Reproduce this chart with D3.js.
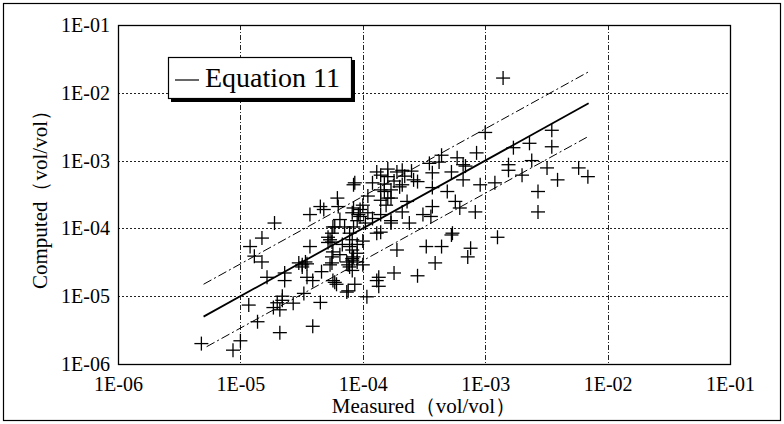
<!DOCTYPE html>
<head>
    <meta charset="utf-8">
    <style>
        body { margin: 0; background: #fff; }
        text { font-family: "Liberation Serif", "DejaVu Serif", serif; fill: #000; }
        .grid-h { stroke: #222; stroke-width: 1px; stroke-dasharray: 2,2; }
        .grid-v { stroke: #222; stroke-width: 1px; stroke-dasharray: 5,2,1,2; }
        .fit-line { fill: none; stroke: #000; stroke-width: 1.8px; }
        .band-line { fill: none; stroke: #000; stroke-width: 1px; stroke-dasharray: 9,3,2,3; }
        .mark { stroke: #000; stroke-width: 1.3px; }
    </style>
</head>

<body>
    <script src="https://d3js.org/d3.v7.min.js"></script>

    <script>
        // decade ticks on both axes
        var tickValues = [1e-6, 1e-5, 1e-4, 1e-3, 1e-2, 1e-1];
        var tickLabels = ["1E-06", "1E-05", "1E-04", "1E-03", "1E-02", "1E-01"];

        var measured = [
            4.8e-6, 8.7e-6, 1.0e-5, 1.17e-5, 1.38e-5, 2.1e-5, 3.9e-5, 1.86e-5, 2.1e-5, 2.2e-5,
            2.7e-5, 4.5e-5, 3.3e-5, 1.2e-5, 1.3e-5, 1.5e-5, 1.5e-5, 1.9e-5, 1.65e-5, 2.3e-5,
            2.3e-5, 3.2e-5, 3.4e-5, 3.5e-5, 3.9e-5, 3.7e-5, 3.7e-5, 4.5e-5, 4.6e-5, 5.4e-5,
            5.7e-5, 5.2e-5, 5.6e-5, 5.7e-5, 6.5e-5, 5.7e-5, 6.1e-5, 7.6e-5, 8.6e-5, 1.08e-4,
            7.6e-5, 8.2e-5, 1.3e-4, 1.35e-4, 1.8e-4, 1.9e-4, 1.0e-4, 8.4e-5, 7.8e-5, 3.2e-5,
            3.5e-5, 6.2e-5, 6.3e-5, 5.9e-5, 5.6e-5, 5.4e-5, 5.6e-5, 7.1e-5, 7.8e-5, 8.2e-5,
            8.6e-5, 8.4e-5, 9.5e-5, 9.2e-5, 8.2e-5, 8.2e-5, 8.2e-5, 7.4e-5, 1.2e-4, 1.3e-4,
            1.4e-4, 1.6e-4, 1.4e-4, 1.5e-4, 1.7e-4, 1.4e-4, 1.6e-4, 1.7e-4, 1.7e-4, 1.3e-4,
            1.9e-4, 2.1e-4, 2.0e-4, 4.8e-5, 9.5e-5, 8.4e-5, 1.4e-4, 1.7e-4, 5.2e-5, 5.6e-5,
            5.9e-5, 7.4e-5, 8.2e-5, 7.8e-5, 1.35e-4, 1.4e-4, 1.0e-3, 8.5e-4, 1.7e-3, 1.55e-3,
            1.55e-3, 1.2e-3, 9.1e-4, 6.6e-4, 5.9e-4, 4.4e-4, 5.3e-4, 4.9e-4, 6.6e-4, 3.7e-4,
            3.5e-4, 2.6e-4, 2.8e-4, 2.2e-4, 2.1e-4, 3.7e-4, 5.7e-4, 6.2e-4, 8.3e-4, 3.7e-4,
            3.6e-4, 3.1e-4, 2.4e-4, 2.1e-4, 5.3e-4, 1.26e-3, 3.3e-4, 4.4e-4, 3.9e-4, 7.6e-4,
            7.2e-4, 2.8e-4, 1.4e-3, 3.5e-3, 3.5e-3, 2.3e-3, 2.4e-3, 2.0e-3, 3.2e-3, 3.9e-3,
            5.8e-3, 6.9e-3, 2.7e-3, 2.7e-3, 6.9e-4, 5.4e-4, 8.4e-5, 2.2e-5, 2.0e-5, 3.0e-5,
            9.0e-5, 1.0e-4, 1.05e-4, 6.8e-5, 9.0e-5, 9.0e-5, 9.0e-5, 1.1e-4, 1.1e-4, 6.5e-5,
            1.2e-4, 1.5e-4, 1.8e-4, 1.6e-4, 1.55e-4, 1.0e-4, 2.5e-4, 2.3e-4, 4.2e-4
        ];
        var computed = [
            2.0e-6, 1.6e-6, 2.2e-6, 7.4e-6, 4.2e-6, 2.9e-6, 3.6e-6, 6.8e-6, 6.3e-6, 8.7e-6,
            7.9e-6, 8.1e-6, 1.1e-5, 5.4e-5, 3.9e-5, 7.2e-5, 3.2e-5, 1.2e-4, 1.9e-5, 2.2e-5,
            1.7e-5, 2.9e-5, 3.2e-5, 1.9e-5, 1.7e-5, 5.4e-5, 1.6e-4, 2.1e-4, 2.3e-5, 2.9e-5,
            1.05e-4, 7.4e-5, 6.3e-5, 4.5e-5, 4.1e-5, 1.7e-5, 1.5e-5, 1.2e-5, 1.5e-5, 9.8e-6,
            2.9e-5, 2.4e-5, 1.7e-5, 1.4e-5, 2.2e-5, 4.8e-5, 2.9e-5, 3.8e-5, 5.4e-5, 2.7e-5,
            3.0e-5, 2.8e-4, 2.1e-4, 1.05e-4, 8.5e-5, 6.8e-5, 3.8e-5, 1.05e-4, 8.5e-5, 1.7e-4,
            4.7e-4, 2.0e-4, 1.9e-4, 1.6e-4, 6.8e-5, 4.8e-5, 3.6e-5, 3.2e-5, 4.7e-4, 6.8e-4,
            6.1e-4, 5.8e-4, 3.7e-4, 3.5e-4, 3.7e-4, 2.6e-4, 2.8e-4, 2.8e-4, 1.2e-4, 8.5e-5,
            6.8e-4, 7.2e-4, 4.1e-4, 1.9e-4, 1.5e-4, 1.05e-4, 1.6e-4, 1.3e-4, 6.2e-5, 3.1e-5,
            1.6e-5, 1.15e-5, 3.4e-5, 2.7e-5, 1.9e-5, 8.8e-5, 2.6e-3, 1.3e-3, 1.55e-3, 8.7e-4,
            7.2e-4, 4.7e-4, 4.4e-4, 8.7e-4, 1.1e-3, 1.2e-3, 6.8e-4, 3.5e-4, 5.2e-4, 6.6e-4,
            9.1e-4, 5.2e-4, 4.9e-4, 5.9e-4, 4.4e-4, 4.0e-4, 2.5e-4, 2.0e-4, 1.75e-4, 2.1e-4,
            1.5e-4, 1.6e-4, 1.2e-4, 1.75e-4, 8.0e-5, 7.4e-5, 5.4e-5, 5.4e-5, 3.1e-5, 5.1e-5,
            3.8e-5, 2.0e-5, 1.65e-2, 2.8e-3, 1.6e-3, 1.8e-3, 1.0e-3, 6.1e-4, 7.8e-4, 5.2e-4,
            7.8e-4, 5.8e-4, 3.5e-4, 1.75e-4, 8.3e-4, 8.5e-5, 4.4e-4, 1.0e-5, 8.0e-6, 3.1e-5,
            1.3e-4, 2.2e-4, 1.2e-4, 5.8e-5, 5.8e-5, 4.3e-5, 3.2e-5, 1.7e-4, 3.0e-4, 1.35e-4,
            1.4e-4, 4.5e-4, 5.0e-4, 7.5e-4, 2.2e-4, 6.5e-5, 7.0e-4, 2.5e-4, 9.5e-4
        ];

        // Equation 11 line and the factor-of-3 band, as [measured, computed] end points
        var fitLine = [[5e-6, 5e-6], [7e-3, 7e-3]];
        var upperLine = [[5e-6, 1.5e-5], [7.2e-3, 2.1e-2]];
        var lowerLine = [[5.3e-6, 1.8e-6], [6.9e-3, 2.25e-3]];

        var legendLabel = "Equation 11";
        var xTitle = "Measured（vol/vol）";
        var yTitle = "Computed（vol/vol）";

        var width = 784, height = 424;
        var plot = {left: 118, right: 730, top: 25, bottom: 364};

        var x = d3.scaleLog().domain([1e-6, 1e-1]).range([plot.left, plot.right]);
        var y = d3.scaleLog().domain([1e-6, 1e-1]).range([plot.bottom, plot.top]);

        var svg = d3.select("body").append("svg")
            .attr("width", width)
            .attr("height", height);

        //outer frame
        svg.append("rect")
            .attr("x", 3.5).attr("y", 3.5)
            .attr("width", 777).attr("height", 417)
            .attr("fill", "none").attr("stroke", "#000").attr("stroke-width", 1.2);

        //grid lines at inner decades
        var inner = tickValues.slice(1, -1);
        svg.selectAll(".grid-h").data(inner).enter().append("line")
            .attr("class", "grid-h")
            .attr("x1", plot.left).attr("x2", plot.right)
            .attr("y1", function(d) { return Math.round(y(d)) + 0.5; })
            .attr("y2", function(d) { return Math.round(y(d)) + 0.5; });
        svg.selectAll(".grid-v").data(inner).enter().append("line")
            .attr("class", "grid-v")
            .attr("y1", plot.top).attr("y2", plot.bottom)
            .attr("x1", function(d) { return Math.round(x(d)) + 0.5; })
            .attr("x2", function(d) { return Math.round(x(d)) + 0.5; });

        //plot frame
        svg.append("rect")
            .attr("x", plot.left + 0.5).attr("y", plot.top + 0.5)
            .attr("width", plot.right - plot.left).attr("height", plot.bottom - plot.top)
            .attr("fill", "none").attr("stroke", "#000").attr("stroke-width", 1.3);

        function fmt(d) { return tickLabels[tickValues.indexOf(d)]; }

        //axes
        var xAxis = svg.append("g")
            .attr("transform", "translate(0," + plot.bottom + ")")
            .call(d3.axisBottom(x).tickValues(tickValues).tickFormat(fmt).tickSize(0).tickPadding(13));
        var yAxis = svg.append("g")
            .attr("transform", "translate(" + plot.left + ",0)")
            .call(d3.axisLeft(y).tickValues(tickValues).tickFormat(fmt).tickSize(0).tickPadding(8));
        [xAxis, yAxis].forEach(function(g) {
            g.select(".domain").remove();
            g.selectAll("text")
                .attr("font-family", "Liberation Serif, DejaVu Serif, serif")
                .attr("font-size", 20)
                .attr("fill", "#000");
        });

        //axis titles
        svg.append("text")
            .attr("x", (plot.left + plot.right) / 2)
            .attr("y", 413)
            .style("text-anchor", "middle")
            .style("font-size", "21px")
            .text(xTitle);

        svg.append("text")
            .attr("transform", "translate(47," + ((plot.top + plot.bottom) / 2) + ") rotate(-90)")
            .style("text-anchor", "middle")
            .style("font-size", "21px")
            .text(yTitle);

        var line = d3.line()
            .x(function(d) { return x(d[0]); })
            .y(function(d) { return y(d[1]); });

        svg.append("path").datum(upperLine).attr("class", "band-line").attr("d", line);
        svg.append("path").datum(lowerLine).attr("class", "band-line").attr("d", line);
        svg.append("path").datum(fitLine).attr("class", "fit-line").attr("d", line);

        //plus markers
        var pts = measured.map(function(m, i) { return [m, computed[i]]; });
        var arm = 7;
        var marks = svg.append("g").selectAll("g").data(pts).enter().append("g")
            .attr("transform", function(d) { return "translate(" + x(d[0]) + "," + y(d[1]) + ")"; });
        marks.append("line").attr("class", "mark")
            .attr("x1", -arm).attr("x2", arm).attr("y1", 0).attr("y2", 0);
        marks.append("line").attr("class", "mark")
            .attr("x1", 0).attr("x2", 0).attr("y1", -arm).attr("y2", arm);

        //legend with drop shadow
        svg.append("rect")
            .attr("x", 171).attr("y", 60)
            .attr("width", 184).attr("height", 42)
            .attr("fill", "#000");
        svg.append("rect")
            .attr("x", 168.5).attr("y", 57.5)
            .attr("width", 183).attr("height", 41)
            .attr("fill", "#fff").attr("stroke", "#000").attr("stroke-width", 1.2);
        svg.append("line")
            .attr("x1", 175).attr("x2", 199)
            .attr("y1", 80).attr("y2", 80)
            .attr("stroke", "#000").attr("stroke-width", 1.2);
        svg.append("text")
            .attr("x", 205).attr("y", 87)
            .style("font-size", "28px")
            .text(legendLabel);
    </script>
</body>
